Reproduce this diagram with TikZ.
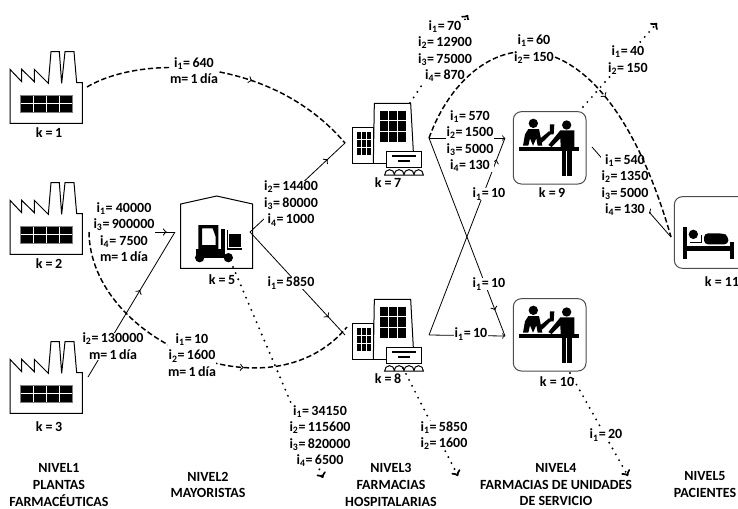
\documentclass[tikz,border=0pt]{standalone}
\usepackage{fontspec}
\setmainfont{Carlito}[BoldFont={Carlito Bold}]
\usetikzlibrary{decorations.markings}
\newcommand{\ii}[1]{i\textsubscript{#1}}
\definecolor{framegray}{gray}{0.3}
\tikzset{
  conn/.style={line width=0.6pt},
  dashconn/.style={line width=1.1pt,dash pattern=on 4pt off 2pt},
  dotconn/.style={line width=1.6pt,line cap=round,dash pattern=on 0pt off 5pt},
  midtip/.style={postaction={decorate,decoration={markings,mark=at position #1 with {\arrow[solid,line width=0.6pt,scale=1.3]{to}}}}},
  lab/.style={fill=white,inner sep=0.2pt,align=center,font=\bfseries\fontsize{10.5}{12.4}\selectfont},
  klab/.style={inner sep=0.5pt,font=\bfseries\fontsize{10.5}{12.4}\selectfont},
  nivel/.style={inner sep=0pt,align=center,font=\bfseries\fontsize{10.5}{12.5}\selectfont},
  shp/.style={line width=0.75pt,line join=miter},
  pics/factory/.style={code={
    \begin{scope}[x=0.25pt,y=-0.25pt]
    \draw[shp] (30,88)--(65,125)--(65,88)--(103,125)--(103,88)--(145,130)--(153,35)--(178,35)--(185,130)--(195,35)--(222,35)--(230,128)--(247,128)--(247,250)--(30,250)--cycle;
    \fill[black] (60,165) rectangle (217,217);
    \draw[gray,line width=0.7pt] (60,165) rectangle (217,217);
    \draw[white,line width=0.6pt] (100,167)--(100,215) (138,167)--(138,215) (177,167)--(177,215) (62,191)--(215,191);
    \end{scope}}},
  pics/warehouse/.style={code={
    \begin{scope}[x=0.25pt,y=-0.25pt]
    \draw[shp] (32,42)--(140,18)--(248,42)--(248,235)--(32,235)--cycle;
    \fill[black,even odd rule] (85,105)--(145,105)--(145,178)--(85,178)--cycle (96,115)--(128,115)--(137,140)--(137,165)--(96,165)--cycle;
    \fill (78,176) rectangle (165,205);
    \fill (153,118) rectangle (165,185);
    \fill (170,120) rectangle (174,178);
    \fill (170,174) rectangle (215,179);
    \fill (178,132) rectangle (213,170);
    \fill (89,203) circle (14);
    \fill (175,203) circle (14);
    \end{scope}}},
  pics/pharmacy/.style={code={
    \begin{scope}[x=0.25pt,y=-0.25pt]
    \draw[shp] (36,96)--(100,96)--(100,205)--(36,205)--cycle;
    \draw[shp] (100,205)--(103,25)--(212,25)--(220,170);
    \draw[shp] (100,205)--(140,205);
    \foreach \c in {0,1,2}{\foreach \r in {0,1,2}{
      \fill ({52+\c*14},{110+\r*24}) rectangle +(12,21);
      \fill ({120+\c*27},{47+\r*32}) rectangle +(23,29);
    }}
    \draw[shp,fill=white] (140,170)--(243,170)--(243,218)--(140,218)--cycle;
    \draw[line width=1.3pt] (157,183)--(228,183) (175,198)--(210,198);
    \draw[shp,fill=white] (134,240) to[out=90,in=180] (148,224) to[out=0,in=90] (163,238) to[out=90,in=180] (177,224) to[out=0,in=90] (192,238) to[out=90,in=180] (207,224) to[out=0,in=90] (222,238) to[out=90,in=180] (236,224) to[out=0,in=90] (250,240) -- cycle;
    \end{scope}}},
  pics/clerk/.style={code={
    \begin{scope}[x=0.25pt,y=-0.25pt]
    \draw[framegray,line width=0.75pt,rounded corners=6pt] (25,20) rectangle (243,237);
    \fill (85,55) circle (14);
    \fill (70,72)--(102,72)--(112,122)--(98,122)--(94,100)--(84,122)--(75,100)--(70,122)--(54,122)--(60,88)--cycle;
    \fill (106,100)--(133,78)--(137,88)--(110,114)--cycle;
    \fill (135,58)--(148,58)--(146,88)--(134,88)--cycle;
    \fill (185,60) circle (14);
    \fill (166,76)--(208,76)--(208,126)--(167,126)--(166,100)--(140,126)--(130,120)--cycle;
    \fill (43,125) rectangle (221,139);
    \fill (170,139) rectangle (183,212);
    \fill (187,139) rectangle (200,212);
    \end{scope}}},
  pics/patient/.style={code={
    \begin{scope}[x=0.25pt,y=-0.25pt]
    \draw[framegray,line width=0.75pt,rounded corners=6pt] (523,590) rectangle (790,805);
    \fill (548,680) rectangle (562,778);
    \fill (690,725) rectangle (703,778);
    \fill (562,738) rectangle (690,752);
    \fill (580,703) circle (14);
    \draw[line width=0.4pt] (570,728)--(605,728)--(605,706);
    \fill[rounded corners=3pt] (612,700)--(670,700)--(685,708)--(685,733)--(612,733)--cycle;
    \end{scope}}}
}
\begin{document}
\begin{tikzpicture}[x=0.75pt,y=-0.75pt]
\useasboundingbox (0,0) rectangle (738,508);
\clip (0,0) rectangle (738,508);
% icons
\pic at (0,40) {factory};
\pic at (0,171) {factory};
\pic at (0,330) {factory};
\pic at (170,190) {warehouse};
\pic at (340,95) {pharmacy};
\pic at (340,291) {pharmacy};
\pic at (505,105) {clerk};
\pic at (505,292) {clerk};
\pic at (500,0) {patient};
% connection points
\coordinate (k1out) at (87,87);
\coordinate (k2out) at (89,232);
\coordinate (k2solid) at (120,232);
\coordinate (k3out) at (88,377);
\coordinate (k5in) at (175,232);
\coordinate (k5out) at (250,232);
\coordinate (k5waste) at (233,267);
\coordinate (k5end) at (323,478);
\coordinate (k7in) at (345,143);
\coordinate (k8in) at (345,335);
\coordinate (k8dash) at (347,327);
\coordinate (k7out) at (429,138);
\coordinate (k7waste) at (410,103);
\coordinate (k7end) at (468,15);
\coordinate (k8out) at (429,335);
\coordinate (k8waste) at (403,368);
\coordinate (k8end) at (458,476);
\coordinate (k9in) at (505,138);
\coordinate (k9out) at (592,147);
\coordinate (k9waste) at (583,107);
\coordinate (k9end) at (657,23);
\coordinate (k10in) at (505,336);
\coordinate (k10waste) at (570,373);
\coordinate (k10end) at (628,476);
\coordinate (k11in) at (671,237);
% solid connectors with labels
\draw[conn,midtip=0.85] (k2solid) -- (k5in);
\node[lab] (l2) at (124,232) {\ii{1}= 40000\\\ii{3}=\,900000\\\ii{4}= 7500\\m=\,1\,día};
\draw[conn,midtip=0.60] (k3out) -- (k5in);
\node[lab] (l3) at (113,346) {\ii{2}=\,130000\\m=\,1\,día};
\draw[conn,midtip=0.82] (k5out) -- (k7in);
\node[lab] (l57) at (291,203.5) {\ii{2}=\,14400\\\ii{3}=\,80000\\\ii{4}=\,1000};
\draw[conn,midtip=0.83] (k5out) -- (k8in);
\node[lab] (l58) at (291,283) {\ii{1}=\,5850};
\draw[conn,midtip=0.74] (k9out) -- (k11in);
\node[lab] (l911) at (625,185) {\ii{1}=\,540\\\ii{2}=\,1350\\\ii{3}=\,5000\\\ii{4}=\,130};
\draw[conn,midtip=0.89] (k8out) -- (k9in);
\node[lab] (l89) at (489,194) {\ii{1}=\,10};
\draw[conn,midtip=0.87] (k7out) -- (k10in);
\node[lab] (l710) at (489,284) {\ii{1}=\,10};
\draw[conn,->] (k7out) -- (k9in);
\node[lab] (l79) at (470,141) {\ii{1}=\,570\\\ii{2}=\,1500\\\ii{3}=\,5000\\\ii{4}=\,130};
\draw[conn,->] (k8out) -- (k10in);
\node[lab] (l810) at (471,334) {\ii{1}=\,10};
% dotted connectors with labels
\draw[dotconn,->] (k5waste) -- (k5end);
\node[lab] (lw5) at (320,436) {\ii{1}=\,34150\\\ii{2}=\,115600\\\ii{3}=\,820000\\\ii{4}=\,6500};
\draw[dotconn,->] (k7waste) -- (k7end);
\node[lab] (lw7) at (445,51) {\ii{1}=\,70\\\ii{2}=\,12900\\\ii{3}=\,75000\\\ii{4}=\,870};
\draw[dotconn,->] (k8waste) -- (k8end);
\node[lab] (lw8) at (444,435.5) {\ii{1}=\,5850\\\ii{2}=\,1600};
\draw[dotconn,->] (k9waste) -- (k9end);
\node[lab] (lw9) at (628,60) {\ii{1}=\,40\\\ii{2}=\,150};
\draw[dotconn,->] (k10waste) -- (k10end);
\node[lab] (lw10) at (606,435) {\ii{1}=\,20};
% dashed connectors with labels
\draw[dashconn,midtip=0.60] (k1out) .. controls (140,55) and (270,55) .. (k7in);
\node[lab] (l17) at (194,70.5) {\ii{1}=\,640\\m=\,1\,día};
\draw[dashconn,midtip=0.66] (k2out) .. controls (90,340) and (270,420) .. (k8dash);
\node[lab] (l28) at (192,355) {\ii{1}=\,10\\\ii{2}=\,1600\\m=\,1\,día};
\draw[dashconn,midtip=0.60] (k7out) .. controls (470,25) and (600,-10) .. (k11in);
\node[lab] (l711) at (534,49) {\ii{1}=\,60\\\ii{2}=\,150};
% k labels
\node[klab] (k1) at (49,133) {k =\,1};
\node[klab] (k2) at (49,264) {k =\,2};
\node[klab] (k3) at (49,427) {k =\,3};
\node[klab] (k5) at (222,280) {k =\,5};
\node[klab] (k7) at (388,183) {k =\,7};
\node[klab] (k8) at (388,379) {k =\,8};
\node[klab] (k9) at (552,193) {k =\,9};
\node[klab] (k10) at (557,382) {k = 10};
\node[klab] (k11) at (722,282) {k = 11};
% levels
\node[nivel] (n1) at (59,485) {NIVEL1\\PLANTAS\\FARMACÉUTICAS};
\node[nivel] (n2) at (208,485) {NIVEL2\\MAYORISTAS};
\node[nivel] (n3) at (391,485) {NIVEL3\\FARMACIAS\\HOSPITALARIAS};
\node[nivel] (n4) at (556,484.5) {NIVEL4\\FARMACIAS DE UNIDADES\\DE SERVICIO};
\node[nivel] (n5) at (705,484.5) {NIVEL5\\PACIENTES};
\end{tikzpicture}
\end{document}
